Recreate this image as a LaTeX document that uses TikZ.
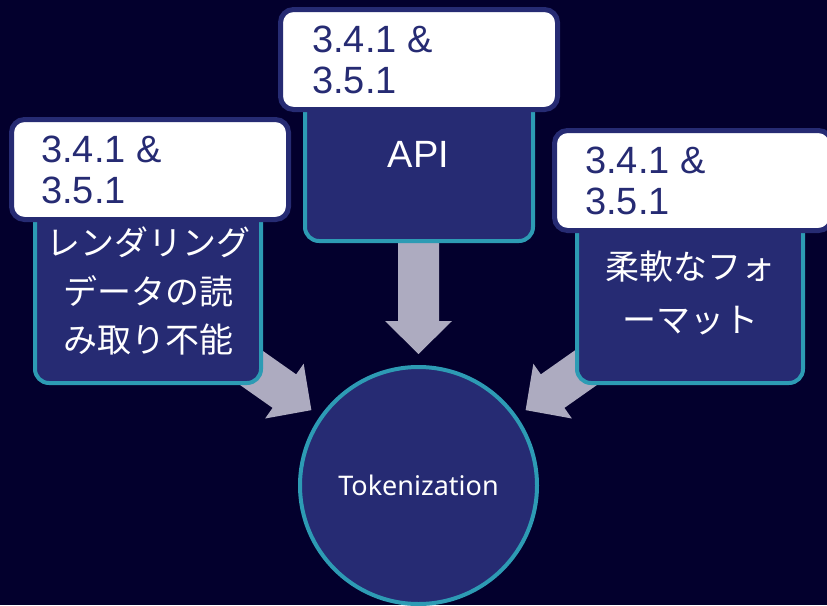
\documentclass[tikz,border=0pt]{standalone}
\usepackage{fontspec}
\setmainfont{Liberation Sans}
\newfontfamily\jpfont{Noto Sans CJK JP}
\newfontfamily\notofont{Noto Sans}
\usetikzlibrary{calc}

\definecolor{bgnavy}{HTML}{03002D}
\definecolor{boxfill}{HTML}{262B73}
\definecolor{tealline}{HTML}{2D9BB4}
\definecolor{arrowfill}{HTML}{ADABC0}

\tikzset{
  mainbox/.style={draw=tealline, fill=boxfill, line width=4pt,
    rounded corners=14pt, inner sep=0pt},
  tagbox/.style={draw=boxfill, fill=white, line width=5pt,
    rounded corners=13pt, minimum width=277pt, minimum height=100pt,
    inner sep=0pt},
  tagtext/.style={text=boxfill, font=\fontsize{38}{41}\selectfont,
    inner sep=0pt, anchor=base west},
  jptext/.style={text=white, font=\jpfont\fontsize{34}{48.5}\selectfont,
    align=center, inner sep=0pt},
  hub/.style={circle, draw=tealline, fill=boxfill, line width=4pt,
    minimum size=237pt, inner sep=0pt, text=white,
    font=\notofont\fontsize{27}{30}\selectfont},
}

% block arrow from #1 towards node centre #2, tip #3 short of that centre
\newcommand\blockarrow[3]{%
  \coordinate (ba-t) at ($(#2)!#3!(#1)$);
  \coordinate (ba-h) at ($(ba-t)!33pt!(#1)$);
  \fill[arrowfill]
    ($(#1)!20.5pt!90:(ba-t)$) -- ($(ba-h)!20.5pt!90:(ba-t)$)
    -- ($(ba-h)!33.5pt!90:(ba-t)$) -- (ba-t)
    -- ($(ba-h)!33.5pt!-90:(ba-t)$) -- ($(ba-h)!20.5pt!-90:(ba-t)$)
    -- ($(#1)!20.5pt!-90:(ba-t)$) -- cycle;}

\begin{document}
\begin{tikzpicture}[x=1pt, y=-1pt]
  \useasboundingbox (0,0) rectangle (827,605);
  \fill[bgnavy] (0,0) rectangle (827,605);
  \clip (0,0) rectangle (827,605);

  % hub
  \node[hub] (tok) at (418.5,485.5) {Tokenization};

  % source boxes (positions only, drawn after the arrows)
  \path (148,385) coordinate (lpos)
        (419,243) coordinate (tpos)
        (690,385) coordinate (rpos);

  % arrow start points, hidden beneath the boxes
  \coordinate (ls) at (189,324);
  \coordinate (ts) at (418.5,225);
  \coordinate (rs) at (648,324);

  \blockarrow{ls}{tok.center}{131pt}
  \blockarrow{ts}{tok.center}{131.5pt}
  \blockarrow{rs}{tok.center}{131pt}

  % main boxes
  \node[mainbox, minimum width=226pt, minimum height=185pt, anchor=south]
    (lbox) at (lpos) {};
  \node[mainbox, minimum width=228pt, minimum height=153pt, anchor=south]
    (tbox) at (tpos) {};
  \node[mainbox, minimum width=226pt, minimum height=175pt, anchor=south]
    (rbox) at (rpos) {};

  % box texts
  \node[jptext] (ltext) at (148,291)
    {レンダリング\\データの読\\み取り不能};
  \node[text=white, font=\fontsize{38}{41}\selectfont, anchor=base]
    (ttext) at (418.5,167) {API};
  \node[jptext, font=\jpfont\fontsize{34}{53}\selectfont] (rtext) at (690,292.5)
    {柔軟なフォ\\ーマット};

  % reference tags
  \node[tagbox] (ltag) at (150,169.5) {};
  \node[tagbox] (ttag) at (419,59.5) {};
  \node[tagbox] (rtag) at (693,180.5) {};

  \node[tagtext] (ltag1) at ($(ltag.north west)+(32,45)$) {3.4.1 \&};
  \node[tagtext] (ltag2) at ($(ltag.north west)+(32,86)$) {3.5.1};
  \node[tagtext] (ttag1) at ($(ttag.north west)+(34,45)$) {3.4.1 \&};
  \node[tagtext] (ttag2) at ($(ttag.north west)+(34,86)$) {3.5.1};
  \node[tagtext] (rtag1) at ($(rtag.north west)+(33,45)$) {3.4.1 \&};
  \node[tagtext] (rtag2) at ($(rtag.north west)+(33,86)$) {3.5.1};
\end{tikzpicture}
\end{document}
